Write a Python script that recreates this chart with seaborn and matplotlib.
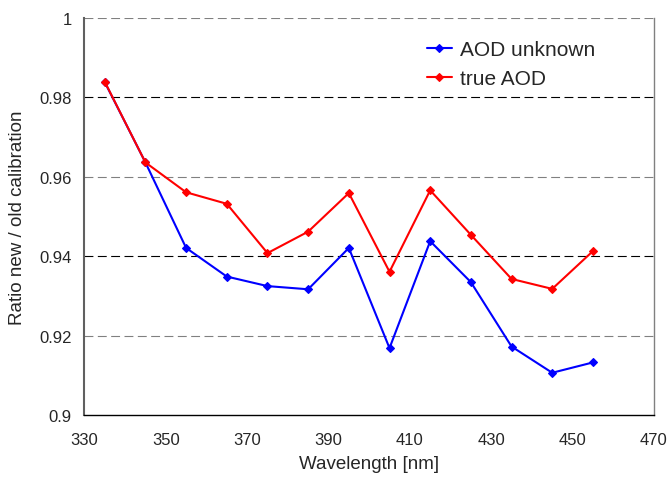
import matplotlib
matplotlib.use("Agg")
import matplotlib.pyplot as plt
import pandas as pd
import seaborn as sns

wavelength = [335, 345, 355, 365, 375, 385, 395, 405, 415, 425, 435, 445, 455]
aod_unknown = [0.9838, 0.9636, 0.9421, 0.9349, 0.9325, 0.9317, 0.9421,
               0.9169, 0.9438, 0.9335, 0.9173, 0.9107, 0.9133]
true_aod = [0.9839, 0.9636, 0.9561, 0.9532, 0.9408, 0.9462, 0.9559,
            0.9361, 0.9566, 0.9454, 0.9343, 0.9318, 0.9413]
series_names = ["AOD unknown", "true AOD"]

df = pd.concat([
    pd.DataFrame({"wavelength": wavelength, "ratio": aod_unknown, "series": series_names[0]}),
    pd.DataFrame({"wavelength": wavelength, "ratio": true_aod, "series": series_names[1]}),
])

sns.set_style("white")
plt.rcParams["font.family"] = ["Liberation Sans", "DejaVu Sans"]

fig = plt.figure(figsize=(6.7, 4.81), dpi=100)
ax = fig.add_axes([0.126, 0.1345, 0.85, 0.8265])

sns.lineplot(data=df, x="wavelength", y="ratio", hue="series",
             palette={"AOD unknown": "#0000ff", "true AOD": "#ff0000"},
             style="series", markers={"AOD unknown": "D", "true AOD": "D"},
             dashes=False, markersize=4.5, linewidth=1.5, ax=ax, zorder=3)

# solid coloured diamonds (seaborn draws white marker edges by default)
for line in ax.lines:
    line.set_markeredgecolor(line.get_color())
    line.set_markeredgewidth(0.8)

ax.set_xlim(330, 470)
ax.set_ylim(0.9, 1.0)
ax.set_xticks(range(330, 471, 20))
ax.set_yticks([0.9, 0.92, 0.94, 0.96, 0.98, 1.0])
ax.set_yticklabels(["0.9", "0.92", "0.94", "0.96", "0.98", "1"])

# dashed horizontal gridlines (alternating dark / grey like the original)
for i, yv in enumerate([0.92, 0.94, 0.96, 0.98, 1.0]):
    col = "#808080" if i % 2 == 0 else "black"
    ax.axhline(yv, color=col, lw=0.8, linestyle=(0, (8, 4)), zorder=1)

ax.tick_params(axis="both", direction="out", length=5, width=1,
               labelsize=12, color="black")
ax.tick_params(axis="y", pad=4)
ax.tick_params(axis="x", pad=7)

ax.spines["top"].set_visible(False)
ax.spines["left"].set_color("#606060")
ax.spines["left"].set_linewidth(1.5)
ax.spines["bottom"].set_color("black")
ax.spines["bottom"].set_linewidth(1)
ax.spines["right"].set_color("#808080")
ax.spines["right"].set_linewidth(1)

ax.set_xlabel("Wavelength [nm]", fontsize=13.5, labelpad=6)
ax.set_ylabel("Ratio new / old calibration", fontsize=13.5, labelpad=10)

leg = ax.legend(loc="upper right", bbox_to_anchor=(0.93, 0.99), frameon=False,
                fontsize=15, handlelength=1.2, handletextpad=0.4,
                labelspacing=0.45)
for h in leg.legend_handles:
    h.set_markeredgecolor(h.get_color())

fig.savefig("out.png", dpi=100)
